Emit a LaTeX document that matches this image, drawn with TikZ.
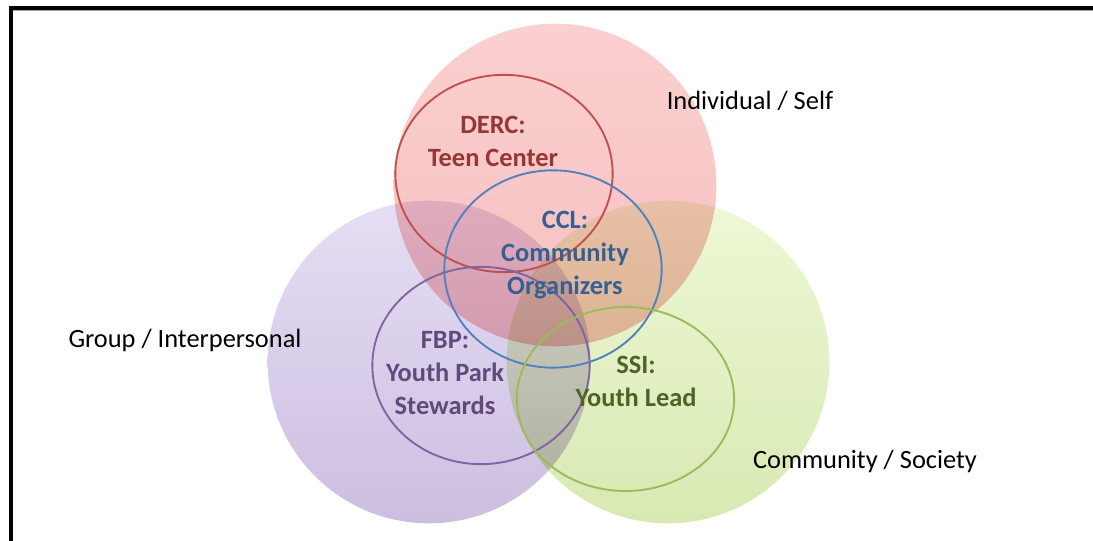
\documentclass[tikz,border=0pt]{standalone}
\usepackage{fontspec}
\setmainfont{Carlito}
\usepackage{tikz}
\usetikzlibrary{shapes.geometric}
\usetikzlibrary{positioning}

\definecolor{selfline}{RGB}{192,80,77}
\definecolor{cclline}{RGB}{79,129,189}
\definecolor{groupline}{RGB}{128,100,162}
\definecolor{societyline}{RGB}{155,187,89}
\definecolor{selftext}{RGB}{149,55,53}
\definecolor{ccltext}{RGB}{54,96,146}
\definecolor{grouptext}{RGB}{96,74,123}
\definecolor{societytext}{RGB}{79,98,40}

\tikzset{
	bigfont/.style={font=\fontsize{19.8}{24.75}\selectfont},
	boldfont/.style={font=\fontsize{19.8}{24.75}\selectfont\bfseries}
}

\begin{document}
\begin{tikzpicture}[x=0.75pt,y=-0.75pt]
	\useasboundingbox (0,0) rectangle (1093,541);
	\draw[gray!70, line width=0.8pt] (13,10) -- (1093,10);
	\draw[line width=2.5pt] (11,541) -- (11,8) -- (1093,8);

	\begin{scope}[blend group=multiply,
	              every node/.style={circle, inner sep=0pt, outer sep=0pt, minimum size=242pt}]
		\node[top color={rgb,255:red,251;green,208;blue,208}, bottom color={rgb,255:red,246;green,190;blue,190}] (self) at (555,185) {};
		\node[top color={rgb,255:red,230;green,222;blue,244}, bottom color={rgb,255:red,204;green,190;blue,224}] (group) at (429,362) {};
		\node[top color={rgb,255:red,238;green,248;blue,214}, bottom color={rgb,255:red,216;green,233;blue,178}] (society) at (668,362) {};
	\end{scope}

	\begin{scope}[every node/.style={ellipse, inner sep=0pt, line width=1.4pt,
	                                 minimum width=163pt, minimum height=148pt}]
		\node[draw=selfline] (derc) at (504,173.5) {};
		\node[draw=cclline] (ccl) at (553,269) {};
		\node[draw=groupline] (fbp) at (481,365.5) {};
		\node[draw=societyline, minimum height=138pt] (ssi) at (625.5,399) {};
	\end{scope}

	% base of a two or three line name is its last line
	\begin{scope}[every node/.style={boldfont, align=center, anchor=base, inner sep=0pt}]
		\node[text=selftext] (dercname) at (493,167) {DERC:\\Teen Center};
		\node[text=ccltext] (cclname) at (565,295) {CCL:\\Community\\Organizers};
		\node[text=grouptext] (fbpname) at (445,415) {FBP:\\Youth Park\\Stewards};
		\node[text=societytext] (ssiname) at (636,407) {SSI:\\Youth Lead};
	\end{scope}

	\begin{scope}[every node/.style={bigfont, anchor=base, inner sep=0pt}]
		\node (selflabel) at (750,110) {Individual / Self};
		\node (grouplabel) at (185,348) {Group / Interpersonal};
		\node (societylabel) at (865,469) {Community / Society};
	\end{scope}
\end{tikzpicture}
\end{document}
